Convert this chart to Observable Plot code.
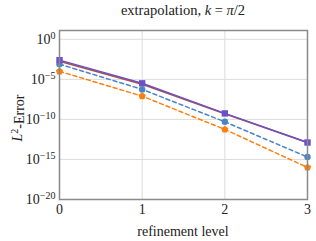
<!DOCTYPE html>
<html><head><meta charset="utf-8">
<script src="https://cdn.jsdelivr.net/npm/d3@7"></script>
<script src="https://cdn.jsdelivr.net/npm/@observablehq/plot@0.6"></script>
<style>body{margin:0;background:#fff} svg text{font-family:'Liberation Serif','Times New Roman','DejaVu Serif',serif !important}</style>
</head><body><div id="chart"></div>
<script>
const levels = [0, 1, 2, 3];
const purpleErr = [2.5e-3, 3.2e-6, 5.6e-10, 1.3e-13];
const redErr = [1.8e-3, 2.5e-6, 5.0e-10, 1.3e-13];
const blueErr = [7.9e-4, 5.6e-7, 5.0e-11, 2.0e-15];
const orangeErr = [1.0e-4, 8.0e-8, 5.6e-12, 1.0e-16];
const yTicks = [1e0, 1e-5, 1e-10, 1e-15, 1e-20];
const xTicks = [0, 1, 2, 3];
const titleText = "extrapolation, ";
const xLabel = "refinement level";

const rows = (vals, s) => levels.map((l, i) => ({level: l, err: vals[i], s}));
const purple = rows(purpleErr, "purple");
const red = rows(redErr, "red");
const blue = rows(blueErr, "blue");
const orange = rows(orangeErr, "orange");

const pentagon = {
  draw(context, size) {
    const r = Math.sqrt(size / 2.38);
    for (let i = 0; i < 5; i++) {
      const a = -Math.PI / 2 + i * 2 * Math.PI / 5;
      const x = r * Math.cos(a), y = r * Math.sin(a);
      if (i === 0) context.moveTo(x, y); else context.lineTo(x, y);
    }
    context.closePath();
  }
};

const fmt = d => "10|" + String(Math.round(Math.log10(d))).replace("-", "\u2212");

const cPurple = "#6b50c8", cRed = "#b0503a", cBlue = "#4a84c4", cOrange = "#ff7f0e";
const font = "'Liberation Serif', serif";

const chart = Plot.plot({
  width: 316, height: 241,
  marginLeft: 59, marginRight: 9, marginTop: 30, marginBottom: 42,
  style: {fontFamily: font, fontSize: "14px", background: "#fff"},
  x: {domain: [0, 3], ticks: xTicks},
  y: {type: "log", domain: [1e-20, Math.pow(10, 1.1)], ticks: yTicks},
  marks: [
    Plot.gridY(yTicks, {stroke: "#dcdcdc", strokeOpacity: 1, strokeWidth: 1}),
    Plot.gridX([1, 2], {stroke: "#dcdcdc", strokeOpacity: 1, strokeWidth: 1}),
    Plot.axisY(yTicks, {tickSize: 0, tickPadding: 4, tickFormat: fmt, label: null, fontSize: 14, fontFamily: font, fill: "#222"}),
    Plot.axisX(xTicks, {tickSize: 0, tickPadding: 5, tickFormat: d => String(d), label: null, fontSize: 14, fontFamily: font, fill: "#222"}),
    Plot.line(orange, {x: "level", y: "err", stroke: cOrange, strokeWidth: 1.5, strokeDasharray: "4,3"}),
    Plot.line(blue, {x: "level", y: "err", stroke: cBlue, strokeWidth: 1.5, strokeDasharray: "4,3"}),
    Plot.line(red, {x: "level", y: "err", stroke: cRed, strokeWidth: 1.5}),
    Plot.line(purple, {x: "level", y: "err", stroke: cPurple, strokeWidth: 1.5}),
    Plot.dot(orange, {x: "level", y: "err", fill: cOrange, stroke: null, symbol: pentagon, r: 3.3}),
    Plot.dot(blue, {x: "level", y: "err", fill: cBlue, stroke: null, symbol: "circle", r: 3.2}),
    Plot.dot(purple, {x: "level", y: "err", fill: cPurple, stroke: null, symbol: "square", r: 3.6}),
    Plot.frame({stroke: "#8a8a8a", strokeWidth: 1.5})
  ]
});

const svg = d3.select(chart);
svg.selectAll("text").each(function () {
  const el = d3.select(this);
  const s = el.text();
  if (s.startsWith("10|")) {
    const exp = s.slice(3);
    el.text("");
    el.append("tspan").text("10");
    el.append("tspan").attr("dy", "-0.45em").attr("font-size", 10).text(exp);
  }
});

const t = svg.append("text").attr("x", 183).attr("y", 15).attr("text-anchor", "middle")
  .attr("font-size", 14.5).attr("fill", "#222");
t.append("tspan").text(titleText);
t.append("tspan").attr("font-style", "italic").text("k");
t.append("tspan").text(" = ");
t.append("tspan").attr("font-style", "italic").text("π");
t.append("tspan").text("/2");

svg.append("text").attr("x", 183).attr("y", 236).attr("text-anchor", "middle")
  .attr("font-size", 14).attr("fill", "#222").text(xLabel);

const yl = svg.append("text").attr("transform", "translate(22,118) rotate(-90)").attr("text-anchor", "middle")
  .attr("font-size", 14).attr("fill", "#222");
yl.append("tspan").attr("font-style", "italic").text("L");
yl.append("tspan").attr("dy", "-0.45em").attr("font-size", 10).text("2");
yl.append("tspan").attr("dy", "0.45em").text("-Error");

document.getElementById("chart").appendChild(chart);
</script></body></html>
